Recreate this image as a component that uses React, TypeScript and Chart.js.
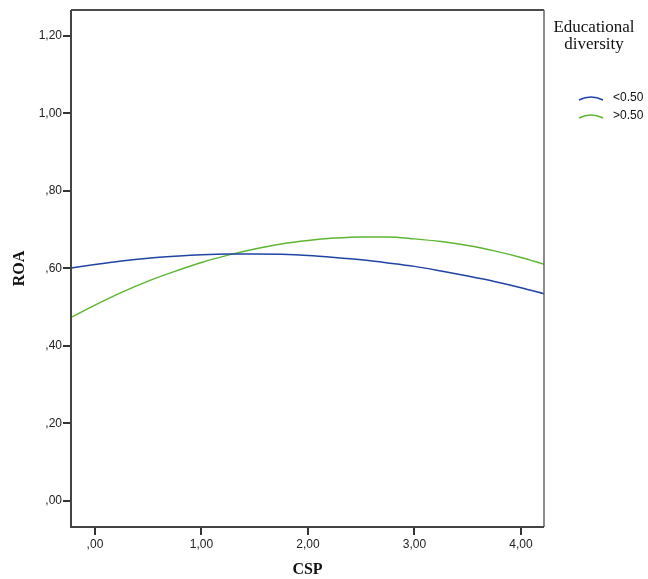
import React, { useEffect, useRef } from "react";
import { Chart, registerables } from "chart.js";

Chart.register(...registerables);

const xValues = [-0.22, 0, 0.25, 0.5, 0.75, 1.0, 1.25, 1.5, 1.75, 2.0, 2.25, 2.5, 2.75, 3.0, 3.25, 3.5, 3.75, 4.0, 4.22];
const lowDiversity = [0.601, 0.610, 0.619, 0.626, 0.631, 0.635, 0.637, 0.637, 0.636, 0.633, 0.628, 0.622, 0.614, 0.605, 0.593, 0.580, 0.566, 0.550, 0.534];
const highDiversity = [0.474, 0.505, 0.538, 0.567, 0.592, 0.615, 0.634, 0.650, 0.663, 0.672, 0.678, 0.681, 0.681, 0.676, 0.669, 0.659, 0.645, 0.628, 0.610];
const seriesLabels = ["<0.50", ">0.50"];
const legendTitle = ["Educational", "diversity"];
const xTicks = [0, 1, 2, 3, 4];
const yTicks = [0, 0.2, 0.4, 0.6, 0.8, 1.0, 1.2];

const BLUE = "#2044a6";
const GREEN = "#5db532";

const fmt = (v: number) => v.toFixed(2).replace(".", ",").replace(/^0/, "");

const framePlugin = {
  id: "frame",
  afterDraw(chart: any) {
    const { ctx, chartArea } = chart;
    const { left, right, top, bottom } = chartArea;
    ctx.save();
    ctx.strokeStyle = "#111";
    ctx.lineWidth = 1.5;
    ctx.beginPath();
    ctx.moveTo(left, top);
    ctx.lineTo(right, top);
    ctx.stroke();
    ctx.strokeStyle = "#666";
    ctx.lineWidth = 1.5;
    ctx.beginPath();
    ctx.moveTo(right, top);
    ctx.lineTo(right, bottom);
    ctx.stroke();
    ctx.strokeStyle = "#444";
    ctx.lineWidth = 2;
    ctx.beginPath();
    ctx.moveTo(left, top);
    ctx.lineTo(left, bottom);
    ctx.lineTo(right, bottom);
    ctx.stroke();

    // legend
    ctx.fillStyle = "#111";
    ctx.font = "17px 'Liberation Serif', 'DejaVu Serif', serif";
    ctx.textAlign = "center";
    ctx.textBaseline = "middle";
    ctx.fillText(legendTitle[0], 594, 28);
    ctx.fillText(legendTitle[1], 594, 45);
    const colors = [BLUE, GREEN];
    const ys = [98, 116];
    ctx.font = "12px 'Liberation Sans', 'DejaVu Sans', sans-serif";
    ctx.textAlign = "left";
    seriesLabels.forEach((lab, i) => {
      ctx.strokeStyle = colors[i];
      ctx.lineWidth = 1.5;
      ctx.beginPath();
      ctx.moveTo(579, ys[i] + 2);
      ctx.quadraticCurveTo(591, ys[i] - 4, 603, ys[i] + 2);
      ctx.stroke();
      ctx.fillStyle = "#111";
      ctx.fillText(lab, 613, ys[i]);
    });
    ctx.restore();
  },
};

export default function App() {
  const ref = useRef<HTMLCanvasElement>(null);
  useEffect(() => {
    document.body.style.margin = "0";
    const canvas = ref.current!;
    const chart = new Chart(canvas, {
      type: "line",
      data: {
        datasets: [
          {
            label: seriesLabels[0],
            data: xValues.map((x, i) => ({ x, y: lowDiversity[i] })),
            borderColor: BLUE,
            borderWidth: 1.5,
            pointRadius: 0,
            cubicInterpolationMode: "monotone",
          },
          {
            label: seriesLabels[1],
            data: xValues.map((x, i) => ({ x, y: highDiversity[i] })),
            borderColor: GREEN,
            borderWidth: 1.5,
            pointRadius: 0,
            cubicInterpolationMode: "monotone",
          },
        ],
      },
      options: {
        responsive: false,
        animation: false,
        layout: { padding: { left: 0, right: 104, top: 10, bottom: 0 } },
        plugins: { legend: { display: false }, tooltip: { enabled: false } },
        scales: {
          x: {
            type: "linear",
            min: -0.225,
            max: 4.216,
            afterBuildTicks: (s: any) => {
              s.ticks = xTicks.map((v) => ({ value: v }));
            },
            afterFit: (s: any) => {
              s.height = 52;
            },
            ticks: {
              callback: (v: any) => fmt(Number(v)),
              color: "#222",
              font: { family: "'Liberation Sans', 'DejaVu Sans', sans-serif", size: 12 },
              padding: 2,
              maxRotation: 0,
            },
            grid: { drawOnChartArea: false, tickLength: 8, color: "#333", lineWidth: 2 },
            border: { display: false },
            title: {
              display: true,
              text: "CSP",
              color: "#111",
              font: { family: "'Liberation Serif', 'DejaVu Serif', serif", size: 16, weight: "bold" },
              padding: { top: 4, bottom: 0 },
            },
          },
          y: {
            type: "linear",
            min: -0.068,
            max: 1.267,
            afterBuildTicks: (s: any) => {
              s.ticks = yTicks.map((v) => ({ value: v }));
            },
            afterFit: (s: any) => {
              s.width = 71;
            },
            ticks: {
              callback: (v: any) => fmt(Number(v)),
              color: "#222",
              font: { family: "'Liberation Sans', 'DejaVu Sans', sans-serif", size: 12 },
              padding: 1,
            },
            grid: { drawOnChartArea: false, tickLength: 8, color: "#333", lineWidth: 2 },
            border: { display: false },
            title: {
              display: true,
              text: "ROA",
              color: "#111",
              font: { family: "'Liberation Serif', 'DejaVu Serif', serif", size: 16, weight: "bold" },
              padding: { top: 10, bottom: 0 },
            },
          },
        },
      },
      plugins: [framePlugin],
    } as any);
    return () => chart.destroy();
  }, []);
  return <canvas ref={ref} width={648} height={579} style={{ display: "block" }} />;
}
